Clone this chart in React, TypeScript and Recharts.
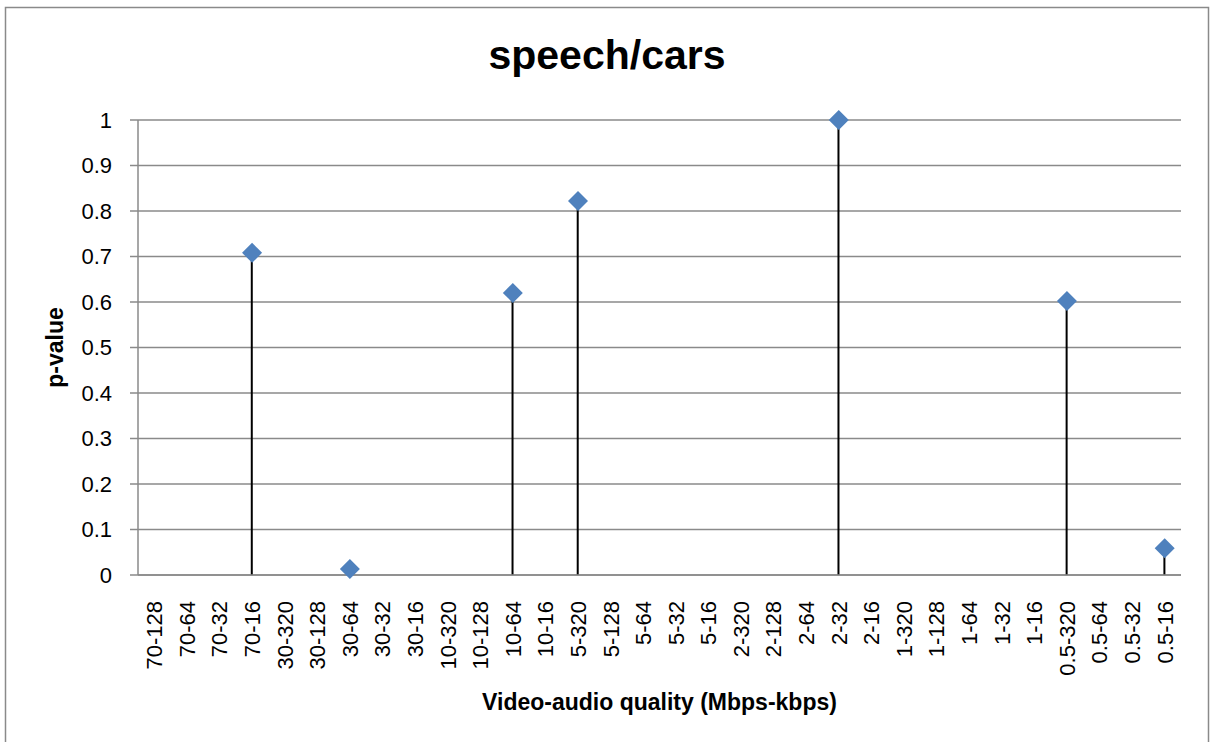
import { Bar, CartesianGrid, ComposedChart, Label, Line, XAxis, YAxis } from 'recharts'

const categorias = [
    '70-128', '70-64', '70-32', '70-16',
    '30-320', '30-128', '30-64', '30-32', '30-16',
    '10-320', '10-128', '10-64', '10-16',
    '5-320', '5-128', '5-64', '5-32', '5-16',
    '2-320', '2-128', '2-64', '2-32', '2-16',
    '1-320', '1-128', '1-64', '1-32', '1-16',
    '0.5-320', '0.5-64', '0.5-32', '0.5-16',
]

const pValores: (number | null)[] = [
    null, null, null, 0.708,
    null, null, 0.013, null, null,
    null, null, 0.62, null,
    0.822, null, null, null, null,
    null, null, null, 1.0, null,
    null, null, null, null, null,
    0.602, null, null, 0.059,
]

const ticksY = [0, 0.1, 0.2, 0.3, 0.4, 0.5, 0.6, 0.7, 0.8, 0.9, 1]

const dados = categorias.map((cat, i) => ({ cat, p: pValores[i] }))

const fonte = '"Liberation Sans", Arial, sans-serif'
const cinza = '#8a8a8a'

const TickX = (props: any) => {
    const { x, y, payload } = props
    return (
        <text
            x={x}
            y={y + 18}
            transform={`rotate(-90, ${x}, ${y + 18})`}
            textAnchor='end'
            dy='0.36em'
            fontSize={22}
            fontFamily={fonte}
            fill='#000'
        >
            {payload.value}
        </text>
    )
}

const Losango = (props: any) => {
    const { cx, cy, value, index } = props
    if (value == null || cx == null || cy == null) return <g key={'d' + index} />
    const r = 10
    return (
        <path
            key={'d' + index}
            d={`M${cx},${cy - r}L${cx + r},${cy}L${cx},${cy + r}L${cx - r},${cy}Z`}
            fill='#4f81bd'
        />
    )
}

const App = () => {
    return (
        <div style={{ position: 'absolute', left: 0, top: 0, width: 1210, height: 742, background: '#fff' }}>
            <ComposedChart
                width={1210}
                height={742}
                data={dados}
                margin={{ top: 120, right: 29, left: 0, bottom: 0 }}
            >
                <CartesianGrid vertical={false} stroke={cinza} strokeWidth={1.5} />
                <XAxis
                    dataKey='cat'
                    interval={0}
                    height={167}
                    tickLine={false}
                    axisLine={{ stroke: cinza, strokeWidth: 1.5 }}
                    tick={<TickX />}
                >
                    <Label
                        content={({ viewBox }: any) => (
                            <text
                                x={viewBox.x + viewBox.width / 2}
                                y={710}
                                textAnchor='middle'
                                fontSize={23}
                                fontWeight='bold'
                                fontFamily={fonte}
                                fill='#000'
                            >
                                Video-audio quality (Mbps-kbps)
                            </text>
                        )}
                    />
                </XAxis>
                <YAxis
                    width={138}
                    domain={[0, 1]}
                    ticks={ticksY}
                    interval={0}
                    tickSize={8}
                    tickMargin={18}
                    tickLine={{ stroke: cinza, strokeWidth: 1.5 }}
                    axisLine={{ stroke: cinza, strokeWidth: 1.5 }}
                    tick={{ fill: '#000', fontSize: 22, fontFamily: fonte }}
                >
                    <Label
                        content={({ viewBox }: any) => {
                            const cy = viewBox.y + viewBox.height / 2
                            return (
                                <text
                                    x={63}
                                    y={cy}
                                    transform={`rotate(-90, 63, ${cy})`}
                                    textAnchor='middle'
                                    fontSize={23}
                                    fontWeight='bold'
                                    fontFamily={fonte}
                                    fill='#000'
                                >
                                    p-value
                                </text>
                            )
                        }}
                    />
                </YAxis>
                <Bar dataKey='p' barSize={2} fill='#000' isAnimationActive={false} />
                <Line
                    dataKey='p'
                    stroke='none'
                    dot={Losango}
                    activeDot={false}
                    isAnimationActive={false}
                />
            </ComposedChart>
            <svg
                width={1210}
                height={742}
                style={{ position: 'absolute', left: 0, top: 0, pointerEvents: 'none' }}
            >
                <rect x={5.5} y={7.5} width={1203} height={745} fill='none' stroke={cinza} strokeWidth={1.5} />
                <text
                    x={607}
                    y={69}
                    textAnchor='middle'
                    fontSize={41}
                    fontWeight='bold'
                    fontFamily={fonte}
                    fill='#000'
                >
                    speech/cars
                </text>
            </svg>
        </div>
    )
}

export default App
